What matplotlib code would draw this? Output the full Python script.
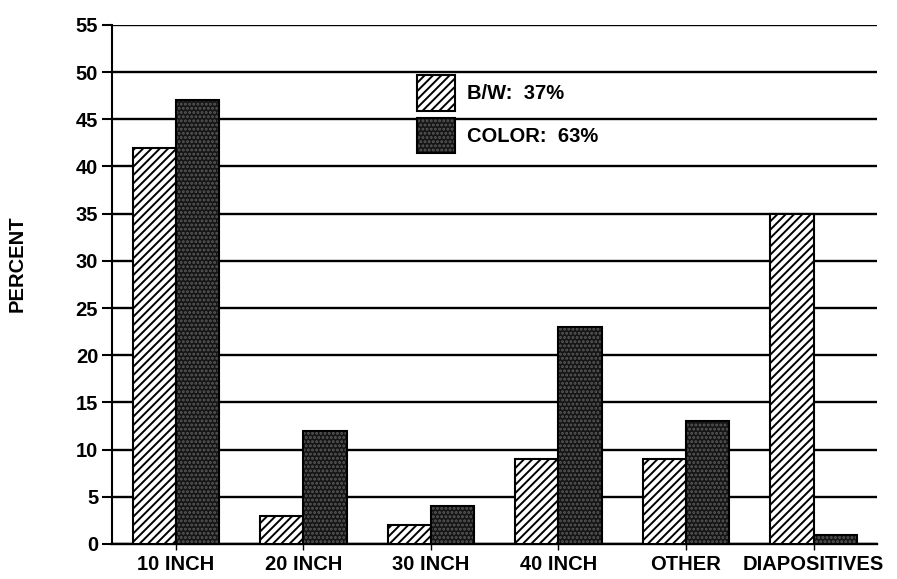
import matplotlib
matplotlib.use("Agg")
import matplotlib.pyplot as plt
import numpy as np
from matplotlib.patches import Rectangle
from matplotlib.legend_handler import HandlerTuple

categories = ["10 INCH", "20 INCH", "30 INCH", "40 INCH", "OTHER", "DIAPOSITIVES"]
bw_values = [42, 3, 2, 9, 9, 35]
color_values = [47, 12, 4, 23, 13, 1]
series_labels = ["B/W:  37%", "COLOR:  63%"]
yticks = list(range(0, 60, 5))

plt.rcParams['font.family'] = ['Liberation Sans', 'DejaVu Sans']
plt.rcParams['font.weight'] = 'bold'
plt.rcParams['hatch.linewidth'] = 1.4

FS = 14.5

fig = plt.figure(figsize=(8.97, 5.79), dpi=100)
ax = fig.add_axes([0.125, 0.0605, 0.853, 0.8965])

x = np.arange(len(categories))
w = 0.34

ax.bar(x - w / 2, bw_values, w, facecolor='white', edgecolor='black',
       hatch='////', linewidth=1.5, zorder=3)
# dark stippled bars: base + dotted hatch layer + outline
ax.bar(x + w / 2, color_values, w, facecolor='#151515', edgecolor='#5a5a5a',
       hatch='....', linewidth=0, zorder=3)
ax.bar(x + w / 2, color_values, w, facecolor='none', edgecolor='black',
       linewidth=1.5, zorder=4)

ax.set_xlim(-0.5, 5.5)
ax.set_ylim(0, 55)
ax.set_yticks(yticks)
ax.set_xticks(x)
ax.set_xticklabels(categories, fontsize=FS, fontweight='bold')
ax.tick_params(axis='y', labelsize=FS, length=7, width=1.5, direction='out', pad=3)
ax.tick_params(axis='x', length=4, width=1.0, direction='out', pad=4)
for lbl in ax.get_yticklabels():
    lbl.set_fontweight('bold')

ax.grid(axis='y', color='black', linewidth=1.7, zorder=1)
ax.set_axisbelow(True)
for s in ['top', 'right']:
    ax.spines[s].set_visible(False)
ax.spines['left'].set_linewidth(1.5)
ax.spines['bottom'].set_linewidth(1.7)

ax.set_ylabel("PERCENT", fontsize=FS, fontweight='bold')
ax.yaxis.set_label_coords(-0.112, 0.54)

h1 = Rectangle((0, 0), 1, 1, facecolor='white', edgecolor='black', hatch='////', linewidth=1.5)
h2a = Rectangle((0, 0), 1, 1, facecolor='#151515', edgecolor='#5a5a5a', hatch='....', linewidth=0)
h2b = Rectangle((0, 0), 1, 1, facecolor='none', edgecolor='black', linewidth=1.5)
leg = ax.legend([h1, (h2a, h2b)], series_labels, loc='upper left',
                bbox_to_anchor=(0.380, 0.930),
                handler_map={tuple: HandlerTuple(ndivide=1, pad=0)},
                frameon=False, handlelength=1.9, handleheight=2.33, fontsize=FS,
                labelspacing=0.35, handletextpad=0.6, borderpad=0.2)
for t in leg.get_texts():
    t.set_fontweight('bold')

fig.savefig("out.png", dpi=100)
